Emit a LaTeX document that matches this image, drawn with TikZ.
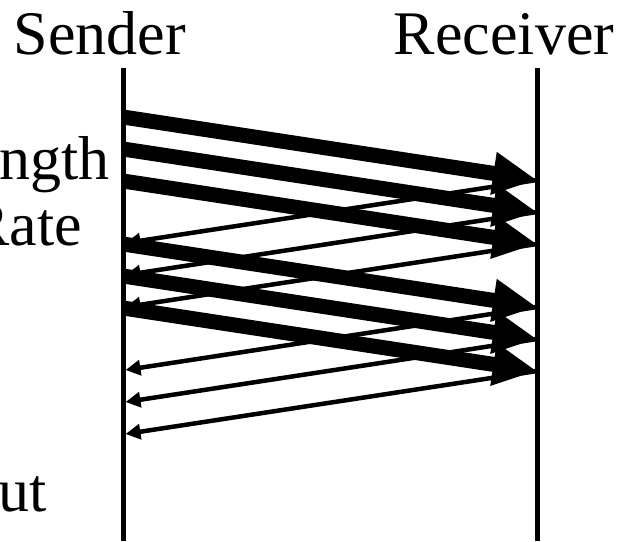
\documentclass[tikz,border=0pt]{standalone}
\usepackage{fontspec}
\setmainfont{Liberation Serif}
\usetikzlibrary{arrows.meta}
\newcommand{\sndx}{123}
\newcommand{\rcvx}{537}
\newcommand{\linetop}{68}
\newcommand{\linebot}{541}
\newcommand{\flight}{63}
\newcommand{\bigfont}{\fontsize{62}{70}\selectfont}
\tikzset{
  lifeline/.style={line width=5pt},
  datapkt/.style={line width=15pt, -{Triangle[length=44pt,width=40pt]}},
  ackpkt/.style={line width=4.5pt, -{Triangle[length=15pt,width=15pt]}},
  title/.style={anchor=base, inner sep=0pt, font=\bigfont},
  sidelabel/.style={anchor=base east, inner sep=0pt, font=\bigfont}
}

\begin{document}
\begin{tikzpicture}[x=1pt,y=-1pt]
    \useasboundingbox (0,0) rectangle (621,541);
    \node[title] (sender) at (100,54) {Sender};
    \node[title] (receiver) at (504,54) {Receiver};
    % lifelines
    \coordinate (stop) at (\sndx,\linetop);
    \coordinate (sbot) at (\sndx,\linebot);
    \coordinate (rtop) at (\rcvx,\linetop);
    \coordinate (rbot) at (\rcvx,\linebot);
    \draw[lifeline] (stop) -- (sbot);
    \draw[lifeline] (rtop) -- (rbot);
    % labels, cut at the left edge
    \node[sidelabel] (lenlbl) at (110,179) {ngth};
    \node[sidelabel] (ratelbl) at (82,245) {Rate};
    \node[sidelabel] (outlbl) at (47,511) {ut};
    % send times
    \foreach \i/\t in {1/117,2/149,3/181,4/244,5/276,6/308}{
      \coordinate (d\i) at (\sndx,\t);
      \coordinate (a\i) at (\rcvx,\t+\flight);
      \coordinate (e\i) at (\sndx+2.5,\t+2*\flight);
    }
    \begin{scope}
      \foreach \i in {1,...,6}
        \draw[datapkt] (d\i) -- (a\i);
      \foreach \i in {1,...,6}
        \draw[ackpkt] (a\i) -- (e\i);
    \end{scope}
\end{tikzpicture}
\end{document}
